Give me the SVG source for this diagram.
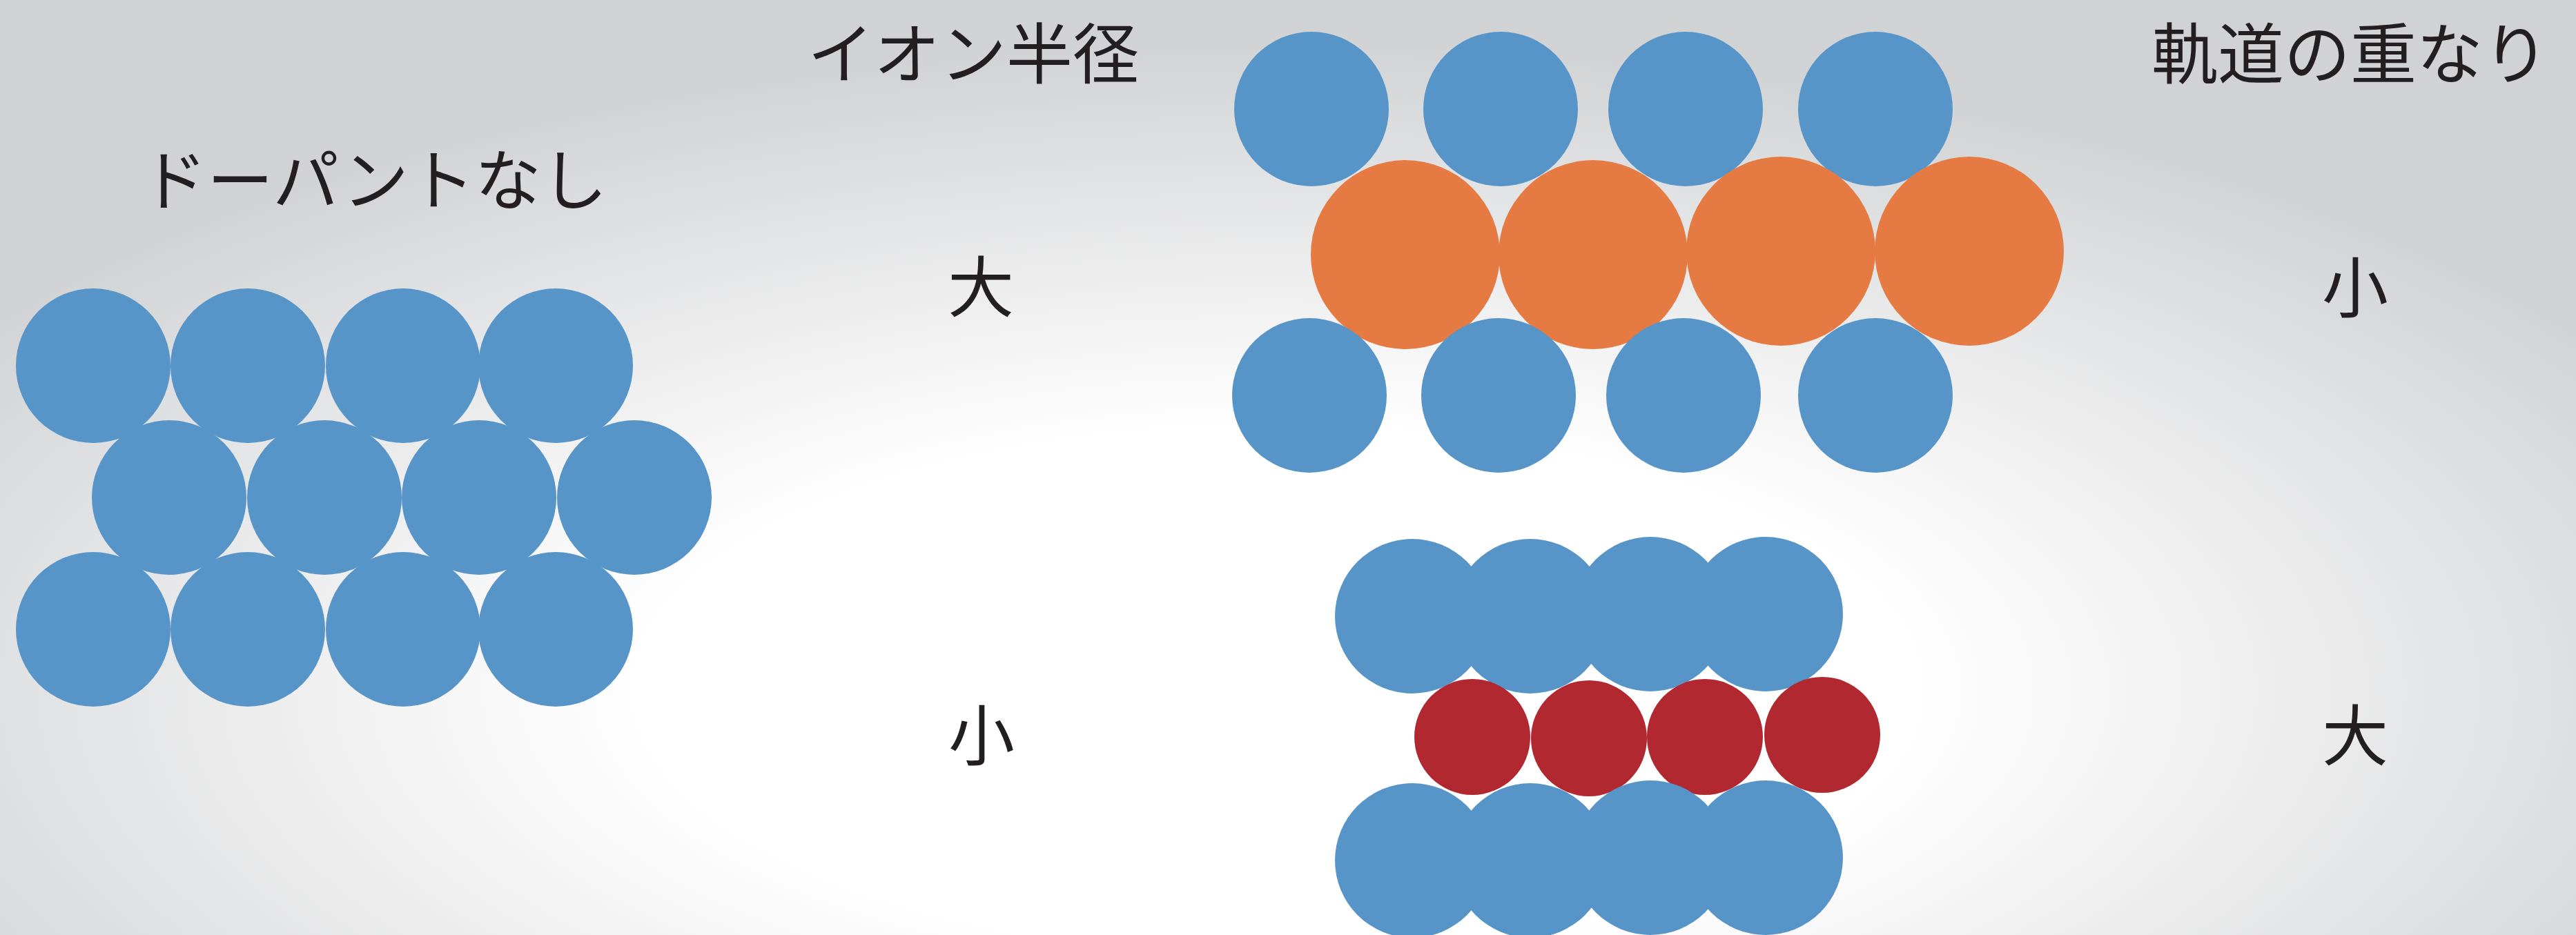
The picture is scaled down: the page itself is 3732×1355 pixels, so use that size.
<svg xmlns="http://www.w3.org/2000/svg" width="3732" height="1355" viewBox="0 0 3732 1355">
  <defs>
    <radialGradient id="bg" gradientUnits="userSpaceOnUse" cx="0" cy="0" r="1" gradientTransform="translate(1850 1000) scale(2300 950)">
      <stop offset="0" stop-color="#ffffff"/>
      <stop offset="0.4" stop-color="#ffffff"/>
      <stop offset="1" stop-color="#d1d2d4"/>
    </radialGradient>
    <style>
      .b { fill: #5795c8; }
      .o { fill: #e57a42; }
      .r { fill: #b22830; }
      .t { font-family: "Noto Sans CJK JP", "Noto Sans", sans-serif; font-size: 96px; fill: #231f20; text-anchor: middle; }
    </style>
  </defs>
  <rect x="0" y="0" width="3732" height="1355" fill="url(#bg)"/>

  <g id="label-nodopant"><text class="t" x="542" y="296">ドーパントなし</text></g>
  <g id="label-ionradius"><text class="t" x="1410" y="113">イオン半径</text></g>
  <g id="label-overlap"><text class="t" x="3405" y="113">軌道の重なり</text></g>
  <g id="label-large1"><text class="t" x="1421" y="451">大</text></g>
  <g id="label-small1"><text class="t" x="1422" y="1101">小</text></g>
  <g id="label-small2"><text class="t" x="3412" y="452">小</text></g>
  <g id="label-large2"><text class="t" x="3412" y="1101">大</text></g>

  <g id="lattice-undoped">
    <circle class="b" cx="135" cy="530" r="112"/>
    <circle class="b" cx="359" cy="530" r="112"/>
    <circle class="b" cx="584" cy="530" r="112"/>
    <circle class="b" cx="805" cy="530" r="112"/>
    <circle class="b" cx="245" cy="721" r="112"/>
    <circle class="b" cx="470" cy="721" r="112"/>
    <circle class="b" cx="694" cy="721" r="112"/>
    <circle class="b" cx="919" cy="721" r="112"/>
    <circle class="b" cx="135" cy="912" r="112"/>
    <circle class="b" cx="359" cy="912" r="112"/>
    <circle class="b" cx="584" cy="912" r="112"/>
    <circle class="b" cx="805" cy="912" r="112"/>
  </g>

  <g id="lattice-large-dopant">
    <circle class="b" cx="1900" cy="158" r="112"/>
    <circle class="b" cx="2174" cy="158" r="112"/>
    <circle class="b" cx="2442" cy="158" r="112"/>
    <circle class="b" cx="2717" cy="158" r="112"/>
    <circle class="o" cx="2036" cy="369" r="137"/>
    <circle class="o" cx="2308" cy="369" r="137"/>
    <circle class="o" cx="2580" cy="364" r="137"/>
    <circle class="o" cx="2853" cy="364" r="137"/>
    <circle class="b" cx="1897" cy="573" r="112"/>
    <circle class="b" cx="2171" cy="573" r="112"/>
    <circle class="b" cx="2439" cy="573" r="112"/>
    <circle class="b" cx="2717" cy="573" r="112"/>
  </g>

  <g id="lattice-small-dopant">
    <circle class="b" cx="2046" cy="893" r="112"/>
    <circle class="b" cx="2217" cy="893" r="112"/>
    <circle class="b" cx="2391" cy="890" r="112"/>
    <circle class="b" cx="2558" cy="890" r="112"/>
    <circle class="r" cx="2133" cy="1068" r="84"/>
    <circle class="r" cx="2302" cy="1070" r="84"/>
    <circle class="r" cx="2470" cy="1068" r="84"/>
    <circle class="r" cx="2640" cy="1065" r="84"/>
    <circle class="b" cx="2046" cy="1247" r="112"/>
    <circle class="b" cx="2217" cy="1247" r="112"/>
    <circle class="b" cx="2391" cy="1243" r="112"/>
    <circle class="b" cx="2558" cy="1243" r="112"/>
  </g>
</svg>
